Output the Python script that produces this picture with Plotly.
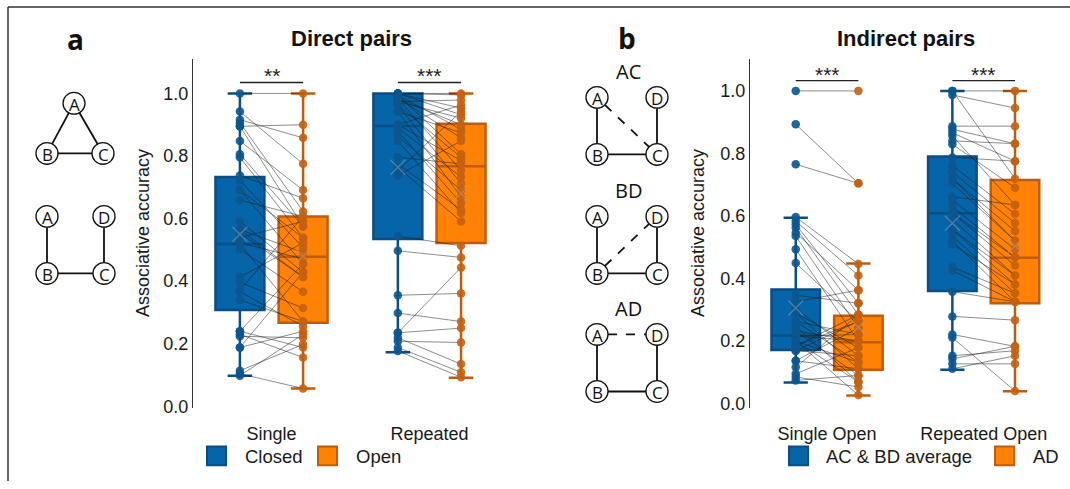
import plotly.graph_objects as go
import numpy as np

W, H = 1070, 489

# ---------------- data ----------------
a_groups = ["Single", "Repeated"]
b_groups = ["Single Open", "Repeated Open"]
a_legend = ["Closed", "Open"]
b_legend = ["AC & BD average", "AD"]
y_ticks = [0.0, 0.2, 0.4, 0.6, 0.8, 1.0]

# panel a : paired per-participant accuracies
single_closed = [1.0, 0.942, 0.916, 0.906, 0.895, 0.848, 0.806, 0.796, 0.738, 0.722, 0.691, 0.659,
                 0.591, 0.565, 0.554, 0.539, 0.523, 0.502, 0.413, 0.397, 0.371, 0.366, 0.340, 0.240,
                 0.230, 0.224, 0.188, 0.114, 0.104, 0.098, 0.240, 0.188, 0.565, 0.691, 0.895, 0.520]
single_open = [1.0, 0.775, 0.858, 0.623, 0.900, 0.691, 0.575, 0.539, 0.665, 0.507, 0.455, 0.607,
               0.429, 0.492, 0.413, 0.591, 0.471, 0.366, 0.523, 0.314, 0.607, 0.256, 0.271, 0.455,
               0.156, 0.219, 0.240, 0.198, 0.057, 0.230, 0.188, 0.429, 0.413, 0.539, 0.575, 0.271]
repeated_closed = [1.0, 1.0, 1.0, 1.0, 0.995, 0.995, 0.984, 0.984, 0.974, 0.963, 0.963, 0.942,
                   0.942, 0.900, 0.890, 0.880, 0.864, 0.848, 0.796, 0.775, 0.764, 0.754, 0.738, 0.544,
                   0.497, 0.355, 0.298, 0.235, 0.219, 0.208, 0.188, 0.177, 0.235, 0.900, 0.974, 0.984]
repeated_open = [1.0, 0.995, 0.953, 0.932, 0.885, 0.806, 0.858, 0.754, 0.921, 0.796, 0.712, 0.874,
                 0.670, 0.785, 0.733, 0.649, 0.691, 0.618, 0.775, 0.628, 0.591, 0.942, 0.848, 0.513,
                 0.476, 0.361, 0.271, 0.250, 0.135, 0.204, 0.109, 0.093, 0.444, 0.963, 0.979, 0.900]

# panel b
single_acbd = [1.0, 0.893, 0.765, 0.596, 0.583, 0.572, 0.562, 0.546, 0.535, 0.493, 0.449, 0.346,
               0.325, 0.304, 0.289, 0.262, 0.247, 0.231, 0.215, 0.215, 0.199, 0.184, 0.168, 0.136,
               0.115, 0.094, 0.084, 0.073, 0.231, 0.199, 0.168, 0.136, 0.289, 0.262, 0.199, 0.184]
single_ad = [1.0, 0.704, 0.704, 0.446, 0.409, 0.320, 0.283, 0.362, 0.241, 0.199, 0.262, 0.320,
             0.362, 0.152, 0.110, 0.220, 0.068, 0.199, 0.220, 0.199, 0.131, 0.283, 0.262, 0.241,
             0.283, 0.178, 0.052, 0.089, 0.089, 0.026, 0.152, 0.110, 0.178, 0.131, 0.068, 0.262]
repeated_acbd = [1.0, 0.987, 1.0, 0.887, 0.877, 0.866, 0.856, 0.840, 0.829, 0.787, 0.761, 0.740,
                 0.719, 0.703, 0.661, 0.651, 0.630, 0.609, 0.588, 0.556, 0.535, 0.520, 0.509, 0.436,
                 0.425, 0.357, 0.278, 0.220, 0.210, 0.152, 0.142, 0.126, 0.110, 0.609, 0.556, 0.720]
repeated_ad = [1.0, 0.945, 0.719, 0.887, 0.831, 0.775, 0.635, 0.831, 0.690, 0.775, 0.606, 0.577,
               0.551, 0.520, 0.635, 0.493, 0.467, 0.441, 0.409, 0.380, 0.352, 0.325, 0.380, 0.352,
               0.325, 0.325, 0.266, 0.182, 0.039, 0.168, 0.182, 0.126, 0.152, 0.467, 0.409, 0.520]

# box statistics (order: group1-first, group1-second, group2-first, group2-second)
a_q1 = [0.308, 0.267, 0.535, 0.522]
a_median = [0.519, 0.478, 0.896, 0.767]
a_q3 = [0.733, 0.607, 1.0, 0.903]
a_low = [0.098, 0.057, 0.173, 0.091]
a_high = [1.0, 1.0, 1.0, 1.0]
a_mean = [0.55, 0.48, 0.764, 0.68]

b_q1 = [0.170, 0.107, 0.359, 0.320]
b_median = [0.217, 0.195, 0.608, 0.466]
b_q3 = [0.364, 0.280, 0.790, 0.715]
b_low = [0.066, 0.025, 0.107, 0.038]
b_high = [0.594, 0.447, 1.0, 1.0]
b_mean = [0.305, 0.243, 0.576, 0.504]

a_sig = ["**", "***"]
b_sig = ["***", "***"]

# ---------------- style ----------------
BLUE_FILL, BLUE_LINE, BLUE_PT = "#0565A8", "#0A4E84", "#0B568F"
ORG_FILL, ORG_LINE, ORG_PT = "#FF8205", "#C25B0C", "#C4600F"
FONT = "Liberation Sans, Arial, sans-serif"
FONT2 = "Open Sans, Noto Sans, sans-serif"
OFF = 0.2
BW = 0.31


def PX(x):
    return x / W


def PY(y):
    return 1 - y / H


fig = go.Figure()


def add_panel(xa, ya, groups, first, second, q1, med, q3, lo, hi, mean):
    pairs = [first, second]
    fills = [BLUE_FILL, ORG_FILL]
    lines = [BLUE_LINE, ORG_LINE]
    pts = [BLUE_PT, ORG_PT]
    k = 0
    for gi in range(len(groups)):
        for si, sign in enumerate([-1, 1]):
            pos = gi + 1 + sign * OFF
            fig.add_trace(go.Box(
                x=[pos], q1=[q1[k]], median=[med[k]], q3=[q3[k]],
                lowerfence=[lo[k]], upperfence=[hi[k]],
                width=BW, whiskerwidth=0.5, boxpoints=False,
                fillcolor=fills[si], line=dict(color=lines[si], width=2.5),
                xaxis=xa, yaxis=ya, showlegend=False, hoverinfo="skip"))
            k += 1
    # paired lines
    for gi in range(len(groups)):
        c, o = pairs[0][gi], pairs[1][gi]
        xs, ys = [], []
        for vc, vo in zip(c, o):
            xs += [gi + 1 - OFF, gi + 1 + OFF, None]
            ys += [vc, vo, None]
        fig.add_trace(go.Scatter(x=xs, y=ys, mode="lines",
                                 line=dict(color="rgba(30,30,30,0.5)", width=1),
                                 xaxis=xa, yaxis=ya, showlegend=False, hoverinfo="skip"))
    # points
    for gi in range(len(groups)):
        for si, sign in enumerate([-1, 1]):
            vals = pairs[si][gi]
            fig.add_trace(go.Scatter(x=[gi + 1 + sign * OFF] * len(vals), y=vals, mode="markers",
                                     marker=dict(color=pts[si], size=8.5, opacity=0.9),
                                     xaxis=xa, yaxis=ya, showlegend=False, hoverinfo="skip"))
    # mean crosses
    k = 0
    for gi in range(len(groups)):
        for si, sign in enumerate([-1, 1]):
            fig.add_trace(go.Scatter(x=[gi + 1 + sign * OFF], y=[mean[k]], mode="markers",
                                     marker=dict(symbol="x-thin", size=15,
                                                 line=dict(color="rgba(120,150,185,0.6)" if si == 0
                                                           else "rgba(190,150,120,0.6)", width=1.3)),
                                     xaxis=xa, yaxis=ya, showlegend=False, hoverinfo="skip"))
            k += 1


add_panel("x", "y", a_groups, [single_closed, repeated_closed], [single_open, repeated_open],
          a_q1, a_median, a_q3, a_low, a_high, a_mean)
add_panel("x2", "y2", b_groups, [single_acbd, repeated_acbd], [single_ad, repeated_ad],
          b_q1, b_median, b_q3, b_low, b_high, b_mean)

ydom = [PY(415), PY(60)]
xcommon = dict(showgrid=False, zeroline=False, showline=False, ticks="",
               tickvals=[1, 2], tickfont=dict(family=FONT, size=18, color="#1a1a1a"),
               ticklabelstandoff=13)
ycommon = dict(showgrid=False, zeroline=False, showline=True, linecolor="#333", linewidth=1.3,
               ticks="", tickvals=y_ticks, ticktext=[f"{v:.1f}" for v in y_ticks],
               tickfont=dict(family=FONT, size=18, color="#1a1a1a"), domain=ydom)

fig.update_layout(
    width=W, height=H, margin=dict(l=0, r=0, t=0, b=0),
    paper_bgcolor="white", plot_bgcolor="white", boxmode="overlay",
    xaxis=dict(domain=[PX(193), PX(510)], range=[0.503, 2.51], ticktext=a_groups, anchor="y", **xcommon),
    yaxis=dict(range=[-0.006, 1.11], anchor="x", **ycommon),
    xaxis2=dict(domain=[PX(750), PX(1062)], range=[0.508, 2.50], ticktext=b_groups, anchor="y2", **xcommon),
    yaxis2=dict(range=[-0.016, 1.102], anchor="x2", **ycommon),
)

shapes = []
ann = []


def text(x, y, s, size, family=FONT, xanchor="center", angle=0, color="#111"):
    ann.append(dict(x=PX(x), y=PY(y), xref="paper", yref="paper", text=s, showarrow=False,
                    xanchor=xanchor, yanchor="middle", textangle=angle,
                    font=dict(family=family, size=size, color=color)))


# frame
shapes.append(dict(type="line", xref="paper", yref="paper", x0=PX(8), x1=1, y0=PY(7), y1=PY(7),
                   line=dict(color="#333", width=1.5)))
shapes.append(dict(type="line", xref="paper", yref="paper", x0=PX(8), x1=PX(8), y0=PY(7), y1=0,
                   line=dict(color="#333", width=1.5)))

# significance brackets
for xa, ya, sigs, ylev in [("x", "y", a_sig, 1.035), ("x2", "y2", b_sig, 1.033)]:
    for gi, s in enumerate(sigs):
        shapes.append(dict(type="line", xref=xa, yref=ya, x0=gi + 1 - OFF, x1=gi + 1 + OFF,
                           y0=ylev, y1=ylev, line=dict(color="#222", width=1.3)))
        ann.append(dict(x=gi + 1, y=ylev, xref=xa, yref=ya, text=s, showarrow=False,
                        xanchor="center", yanchor="bottom", yshift=-7,
                        font=dict(family=FONT, size=21, color="#222")))

# titles and panel letters
text(351, 39, "<b>Direct pairs</b>", 22, FONT)
text(906, 39, "<b>Indirect pairs</b>", 22, FONT)
text(75, 40, "<b>a</b>", 28, FONT2)
text(627, 39, "<b>b</b>", 28, FONT2)

# y axis titles
for xc in [143, 698]:
    text(xc, 237, "Associative accuracy", 18, FONT, angle=-90, color="#1a1a1a")


# legends (manual)
def legend_item(x0, x1, fill, line, tx, s):
    shapes.append(dict(type="rect", xref="paper", yref="paper", x0=PX(x0), x1=PX(x1),
                       y0=PY(473), y1=PY(454), fillcolor=fill, line=dict(color=line, width=2)))
    text(tx, 464, s, 18.5, FONT, xanchor="left", color="#1a1a1a")


legend_item(207, 226, BLUE_FILL, BLUE_LINE, 243, a_legend[0])
legend_item(318, 337, ORG_FILL, ORG_LINE, 354, a_legend[1])
legend_item(789, 808, BLUE_FILL, BLUE_LINE, 824, b_legend[0])
legend_item(995, 1014, ORG_FILL, ORG_LINE, 1031, b_legend[1])

# node diagrams
R = 11


def node(cx, cy, label):
    shapes.append(dict(type="circle", xref="paper", yref="paper",
                       x0=PX(cx - R), x1=PX(cx + R), y0=PY(cy + R), y1=PY(cy - R),
                       fillcolor="white", line=dict(color="#111", width=1.3)))
    text(cx, cy + 1, label, 17, FONT2)


def edge(p, q, dash="solid"):
    (x0, y0), (x1, y1) = p, q
    d = np.hypot(x1 - x0, y1 - y0)
    ux, uy = (x1 - x0) / d, (y1 - y0) / d
    shapes.append(dict(type="line", xref="paper", yref="paper",
                       x0=PX(x0 + ux * R), y0=PY(y0 + uy * R), x1=PX(x1 - ux * R), y1=PY(y1 - uy * R),
                       line=dict(color="#111", width=1.8, dash=dash)))


# panel a triangle
A, B, C = (74, 105), (47, 156), (103, 156)
edge(A, B); edge(A, C); edge(B, C)
# panel a open chain
A2, D2, B2, C2 = (47, 220), (104, 220), (47, 278), (104, 278)
edge(A2, B2); edge(B2, C2); edge(D2, C2)

diagram_nodes = [(A, "A"), (B, "B"), (C, "C"), (A2, "A"), (D2, "D"), (B2, "B"), (C2, "C")]

# panel b diagrams
for top, lab, dashed in [(99, "AC", ("A", "C")), (220, "BD", ("B", "D")), (340, "AD", ("A", "D"))]:
    P = {"A": (597, top), "D": (657, top), "B": (597, top + 58), "C": (657, top + 58)}
    edge(P["A"], P["B"]); edge(P["B"], P["C"]); edge(P["D"], P["C"])
    edge(P[dashed[0]], P[dashed[1]], dash="dash")
    for k in ["A", "D", "B", "C"]:
        diagram_nodes.append((P[k], k))
    text(628, top - 26, lab, 20, FONT2)

for p, l in diagram_nodes:
    node(p[0], p[1], l)

fig.update_layout(shapes=shapes, annotations=ann)
fig.write_html("out.html")
